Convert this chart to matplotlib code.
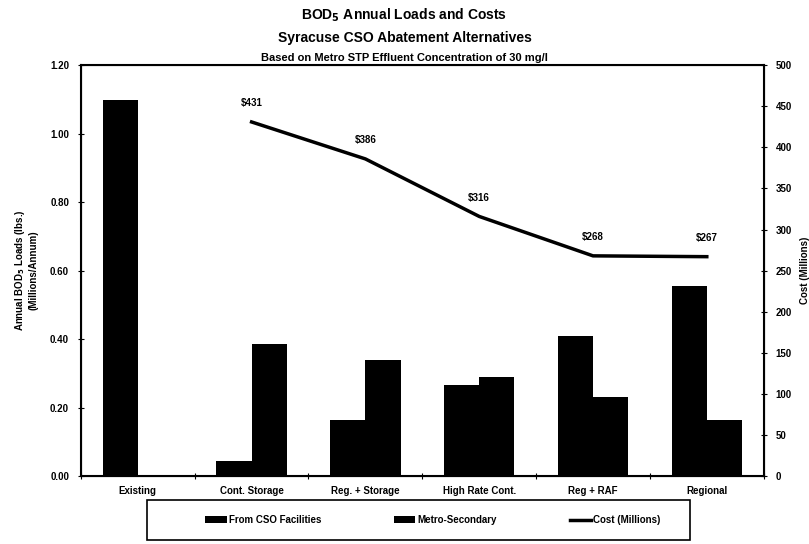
import matplotlib
matplotlib.use("Agg")
import matplotlib.pyplot as plt
from matplotlib.patches import Rectangle
import numpy as np

categories = ["Existing", "Cont. Storage", "Reg. + Storage", "High Rate Cont.", "Reg + RAF", "Regional"]
cso_loads = [1.10, 0.045, 0.165, 0.265, 0.41, 0.555]
metro_loads = [0.0, 0.385, 0.34, 0.29, 0.23, 0.165]
cost = [np.nan, 431, 386, 316, 268, 267]
cost_labels = ["", "$431", "$386", "$316", "$268", "$267"]
left_ticks = [0.0, 0.2, 0.4, 0.6, 0.8, 1.0, 1.2]
right_ticks = [0, 50, 100, 150, 200, 250, 300, 350, 400, 450, 500]

plt.rcParams['font.family'] = ['Liberation Sans', 'DejaVu Sans']
plt.rcParams['font.weight'] = 'bold'

fig = plt.figure(figsize=(8.09, 5.44), dpi=100)
ax = fig.add_axes([0.100, 0.125, 0.844, 0.755])

x = np.arange(len(categories)) + 0.5
w = 0.31
b1 = ax.bar(x - w/2, cso_loads, w, color='black', label='From CSO Facilities')
b2 = ax.bar(x + w/2, metro_loads, w, color='black', label='Metro-Secondary')

ax.set_xlim(0, len(categories))
ax.set_ylim(0, 1.2)
ax.set_yticks(left_ticks)
ax.set_yticklabels([f"{v:.2f}" for v in left_ticks], fontsize=7, fontweight='bold')
ax.set_xticks(np.arange(len(categories) + 1))
ax.set_xticklabels([])
ax.set_xticks(x, minor=True)
ax.set_xticklabels(categories, minor=True, fontsize=7, fontweight='bold')
ax.tick_params(axis='x', which='minor', length=0, pad=7)
ax.tick_params(axis='x', which='major', direction='inout', length=5)
ax.tick_params(axis='y', direction='inout', length=5, pad=6)
for s in ax.spines.values():
    s.set_linewidth(1.5)
ax.set_ylabel("Annual BOD$_5$ Loads (lbs.)\n(Millions/Annum)", fontsize=7, fontweight='bold', labelpad=8)

ax2 = ax.twinx()
ln, = ax2.plot(x, cost, color='black', lw=2.5, label='Cost (Millions)')
ax2.set_ylim(0, 500)
ax2.set_yticks(right_ticks)
ax2.set_yticklabels([str(v) for v in right_ticks], fontsize=7, fontweight='bold')
ax2.tick_params(axis='y', direction='inout', length=5, pad=6)
ax2.set_ylabel("Cost (Millions)", fontsize=7, fontweight='bold', labelpad=6)
for xi, c, lab in zip(x, cost, cost_labels):
    if lab:
        ax2.annotate(lab, (xi, c), xytext=(0, 10), textcoords='offset points',
                     ha='center', va='bottom', fontsize=7, fontweight='bold')

fig.text(0.5, 0.972, "BOD$_5$ Annual Loads and Costs", ha='center', va='center', fontsize=10, fontweight='bold')
fig.text(0.5, 0.930, "Syracuse CSO Abatement Alternatives", ha='center', va='center', fontsize=10, fontweight='bold')
fig.text(0.5, 0.893, "Based on Metro STP Effluent Concentration of 30 mg/l", ha='center', va='center', fontsize=8, fontweight='bold')

fig.patches.append(Rectangle((147/809, 1 - 540/544), (690 - 147)/809, 40/544,
                             transform=fig.transFigure, fill=False, edgecolor='black', lw=1.2))
leg = fig.legend([b1, b2, ln], ['From CSO Facilities', 'Metro-Secondary', 'Cost (Millions)'],
                 loc='center', bbox_to_anchor=(0.535, 1 - 520/544), ncol=3,
                 fontsize=7, frameon=False, columnspacing=7.5,
                 handlelength=2.2, handletextpad=0.2)

fig.savefig("out.png", dpi=100)
